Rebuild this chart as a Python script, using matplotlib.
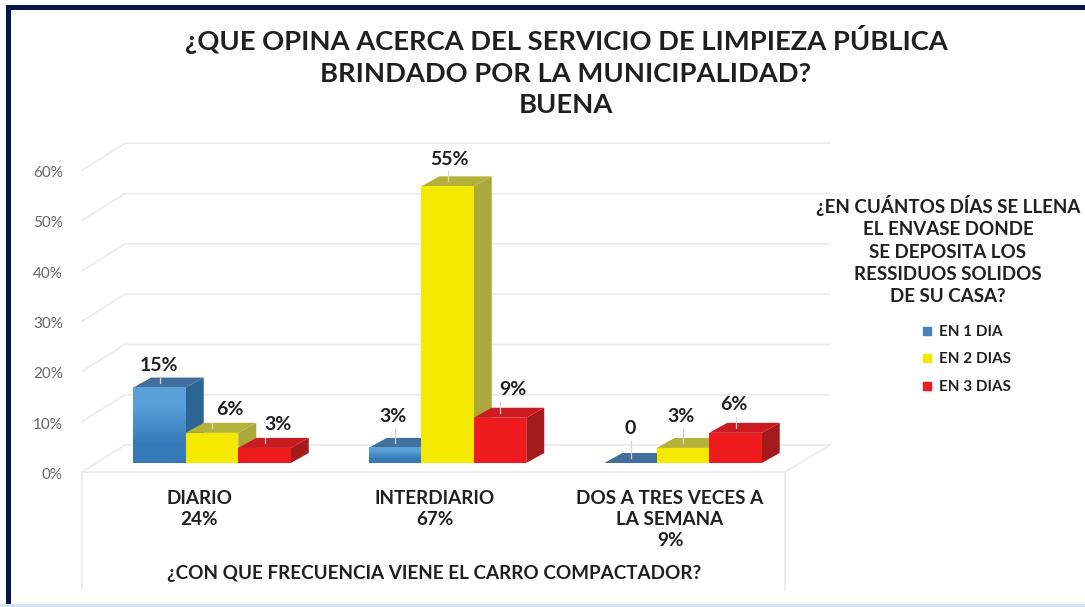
import matplotlib
matplotlib.use("Agg")
import matplotlib.pyplot as plt
from matplotlib.colors import LinearSegmentedColormap
from matplotlib.patches import Polygon, Rectangle
from matplotlib.lines import Line2D

plt.rcParams['font.family'] = ['Lato', 'DejaVu Sans']

categories = ["DIARIO\n24%", "INTERDIARIO\n67%", "DOS A TRES VECES A\nLA SEMANA\n9%"]
series_names = ["EN 1 DIA", "EN 2 DIAS", "EN 3 DIAS"]
en_1_dia = [15, 3, 0]
en_2_dias = [6, 55, 3]
en_3_dias = [3, 9, 6]
y_ticks = [0, 10, 20, 30, 40, 50, 60]

W, H = 1085, 607
PX_Y = 5.03      # pixels per percent
PX_X = 235.5     # pixels per category
BAR = 52.5 / PX_X
DX, DY = 18 / PX_X, 10 / PX_Y   # bar depth
NAVY = "#04164A"
TXT = "#1f1f1f"

front = ["#4A90CE", "#F6E900", "#EE1B1F"]
top = ["#41709F", "#B5B23A", "#C91B20"]
side = ["#2B6596", "#ACA93C", "#A51A1C"]
blue_fade = LinearSegmentedColormap.from_list("blue_fade", ["#5B9FD8", "#3579B8"])
# where the data label sits against its bar top, in pixels
label_dx = [[0, -2, 0], [18, 2, -2], [13, 13, -2]]
label_dy = [[22, 31, 34], [23, 27, 31], [23, 28, 28]]

fig = plt.figure(figsize=(W / 100, H / 100), dpi=100)


def fx(x):
    return x / W


def fy(y):
    return 1 - y / H


x0 = 212 - PX_X / 2
ax = fig.add_axes([fx(x0), fy(463), 3 * PX_X / W, 60 * PX_Y / H])
ax.axis("off")


def data_x(px):
    return (px - 212) / PX_X


# walls and floor
GRID = "#ececec"
xl, xb, xr = data_x(82), data_x(125), data_x(830)
xf = data_x(785)
fl = -9 / PX_Y
back = 18 / PX_Y
for t in y_ticks:
    ax.plot([xl, xb, xr], [t + fl, t + back, t + back], color=GRID, lw=1.3, clip_on=False, zorder=1)
    ax.text(xl - 19 / PX_X, t + fl - 3 / PX_Y, f"{t}%", ha="right", va="center", fontsize=11,
            color="#666666", clip_on=False)
ax.plot([xl, xf, xr], [fl, fl, back], color=GRID, lw=1.3, clip_on=False, zorder=1)
ax.plot([xl, xl], [fl, fl - 118 / PX_Y], color=GRID, lw=1.3, clip_on=False, zorder=1)
ax.plot([xf, xf], [fl, fl - 118 / PX_Y], color=GRID, lw=1.3, clip_on=False, zorder=1)

# bars with their depth faces
all_series = [en_1_dia, en_2_dias, en_3_dias]
for c in range(len(categories)):
    for s, values in enumerate(all_series):
        v = values[c]
        x = c + (s - 1) * BAR
        left, right = x - BAR / 2, x + BAR / 2
        z = 2 + c * 3 + s
        ax.add_patch(Polygon([(right, 0), (right + DX, DY), (right + DX, v + DY), (right, v)],
                             fc=side[s], ec="none", clip_on=False, zorder=z))
        ax.add_patch(Polygon([(left, v), (left + DX, v + DY), (right + DX, v + DY), (right, v)],
                             fc=top[s], ec="none", clip_on=False, zorder=z))
        ax.bar(x, v, BAR, color=front[s], zorder=z, clip_on=False)
        if s == 0 and v > 0:
            ax.imshow([[0], [1]], cmap=blue_fade, extent=(left, right, 0, v), aspect="auto",
                      interpolation="bilinear", zorder=z, clip_on=False)
        lx = x + label_dx[s][c] / PX_X
        ly = v + label_dy[s][c] / PX_Y
        ax.plot([x, x], [v + 1, ly - 2.4], color="#d5d5d5", lw=0.9, clip_on=False, zorder=20)
        ax.text(lx, ly, f"{v}%" if v else "0", ha="center", va="center", fontsize=14,
                fontweight="bold", color=TXT, clip_on=False, zorder=21)

ax.set_xlim(-0.5, 2.5)
ax.set_ylim(0, 60)

# category labels, one line under another
for c, lab in enumerate(categories):
    ax.text(c - 13 / PX_X, -22 / PX_Y - 1, lab, ha="center", va="top", fontsize=13.6,
            fontweight="bold", color=TXT, linespacing=1.29, clip_on=False)

fig.text(fx(434), fy(573), "¿CON QUE FRECUENCIA VIENE EL CARRO COMPACTADOR?", ha="center", va="center",
         fontsize=13.6, fontweight="bold", color=TXT)

fig.text(fx(566), fy(71), "¿QUE OPINA ACERCA DEL SERVICIO DE LIMPIEZA PÚBLICA\nBRINDADO POR LA MUNICIPALIDAD?\nBUENA",
         ha="center", va="center", fontsize=19.7, fontweight="bold", color=TXT, linespacing=1.39)

fig.text(fx(948), fy(250), "¿EN CUÁNTOS DÍAS SE LLENA\nEL ENVASE DONDE\nSE DEPOSITA LOS\nRESSIDUOS SOLIDOS\nDE SU CASA?",
         ha="center", va="center", fontsize=13.5, fontweight="bold", color=TXT, linespacing=1.37)

handles = [Line2D([], [], ls="none", marker="s", ms=6, color=col) for col in ["#4A82B8", "#F6E900", "#EE1B1F"]]
fig.legend(handles, series_names, loc="upper left", bbox_to_anchor=(fx(915), fy(325)), frameon=False,
           prop={"size": 11, "weight": "bold"}, labelspacing=0.88, handletextpad=0.0,
           labelcolor=TXT, borderpad=0, borderaxespad=0, handlelength=1.6)

# frame of the slide
fig.add_artist(Rectangle((fx(6), 0), 5 / W, fy(5), transform=fig.transFigure, fc=NAVY, ec="none"))
fig.add_artist(Rectangle((fx(6), fy(10)), 1 - fx(6), 5 / H, transform=fig.transFigure, fc=NAVY, ec="none"))
fig.add_artist(Rectangle((0, 0), 1, 3 / H, transform=fig.transFigure, fc="#cfe3f0", ec="none"))

fig.savefig("out.png", dpi=100)
